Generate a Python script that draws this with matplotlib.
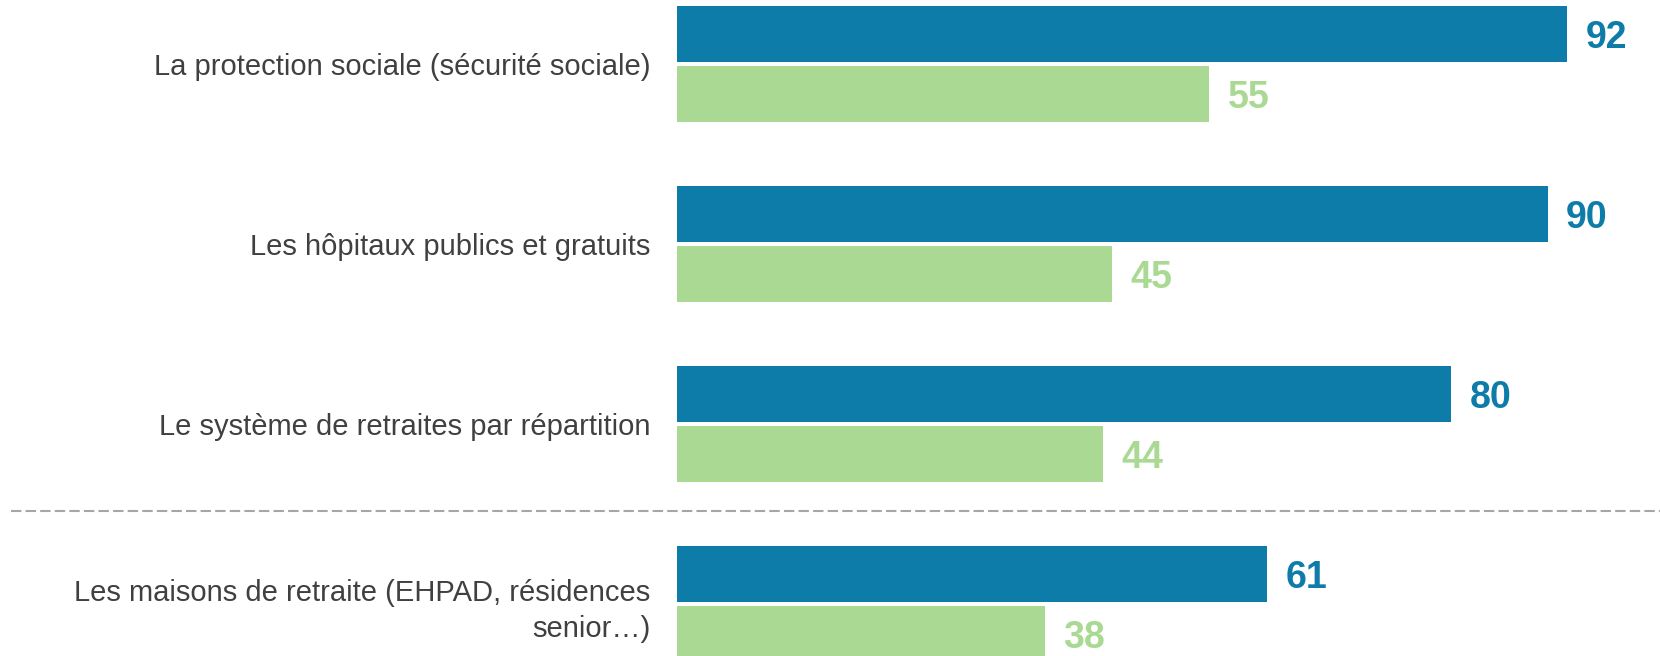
import matplotlib.pyplot as plt

plt.rcParams['font.family'] = ['Liberation Sans', 'DejaVu Sans']

categories = [
    'La protection sociale (sécurité sociale)',
    'Les hôpitaux publics et gratuits',
    'Le système de retraites par répartition',
    'Les maisons de retraite (EHPAD, résidences\nsenior…)',
]
serie_1 = [92, 90, 80, 61]
serie_2 = [55, 45, 44, 38]

bleu = '#0e7ca8'
vert = '#aad994'

fig = plt.figure(figsize=(16.6, 6.56), dpi=100)
ax = fig.add_axes([677 / 1660, 0, 967.4 / 1660, 1])

y = list(range(len(categories)))
h = 56 / 180
off = 30 / 180
ax.barh([i - off for i in y], serie_1, height=h, color=bleu)
ax.barh([i + off for i in y], serie_2, height=h, color=vert)

dy = 4 / 180
for i in y:
    ax.text(serie_1[i] + 1.9, i - off + dy, str(serie_1[i]), color=bleu,
            fontsize=27, fontweight='bold', va='center', ha='left')
    ax.text(serie_2[i] + 1.9, i + off + dy, str(serie_2[i]), color=vert,
            fontsize=27, fontweight='bold', va='center', ha='left')

ax.set_xlim(0, 100)
ax.set_ylim((656 - 64) / 180, -64 / 180)
ax.set_yticks(y)
ax.set_yticklabels(categories, fontsize=21, color='#404040', linespacing=1.35)
ax.tick_params(axis='y', length=0, pad=19)
ax.set_xticks([])
for s in ax.spines.values():
    s.set_visible(False)

# ligne de séparation
ax.axhline((511 - 64) / 180, xmin=(11 - 677) / 967.4, xmax=1.02,
           color='#a6a6a6', lw=1.5, ls=(0, (5, 2)), clip_on=False)

fig.savefig('out.png', dpi=100)
